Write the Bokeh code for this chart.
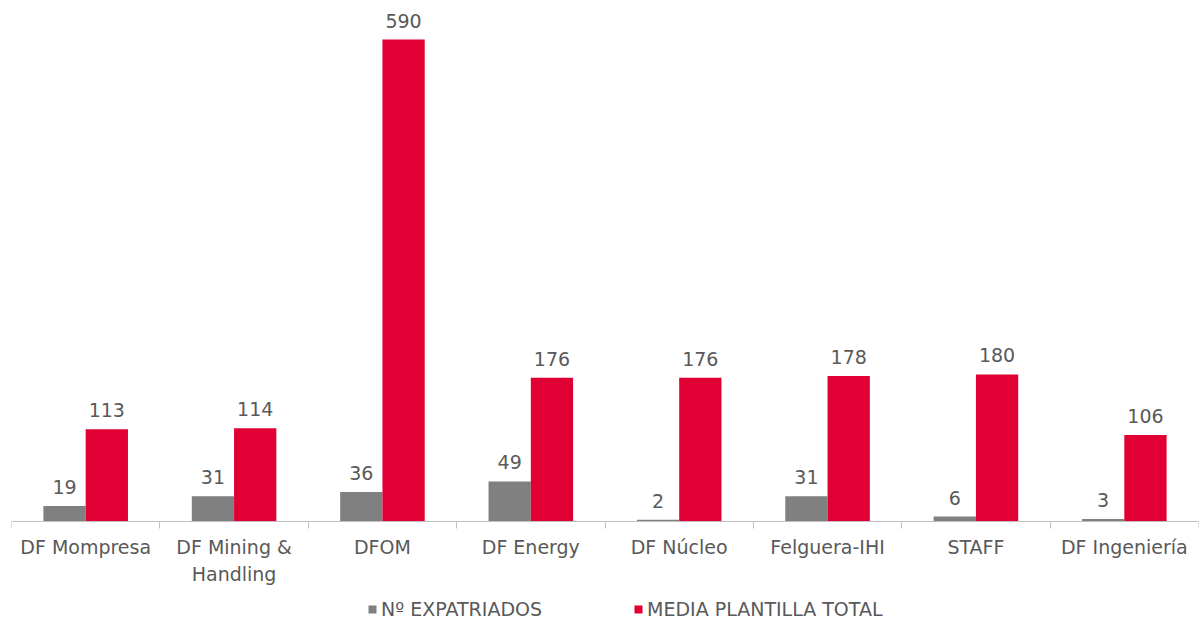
from bokeh.plotting import figure
from bokeh.models import ColumnDataSource, Range1d, FixedTicker, Legend, LegendItem, LabelSet
from bokeh.embed import file_html
from bokeh.resources import INLINE
from bokeh.core.properties import value

categories = ["DF Mompresa", "DF Mining &\nHandling", "DFOM", "DF Energy",
              "DF Núcleo", "Felguera-IHI", "STAFF", "DF Ingeniería"]
expatriados = [19, 31, 36, 49, 2, 31, 6, 3]
plantilla = [113, 114, 590, 176, 176, 178, 180, 106]
series_names = ["Nº EXPATRIADOS", "MEDIA PLANTILLA TOTAL"]

GRAY = "#808080"
RED = "#E00034"
TXT = "#595959"
FONT = "DejaVu Sans"
BW = 0.285

n = len(categories)
idx = list(range(n))
src_g = ColumnDataSource(dict(x=[i - BW / 2 for i in idx], top=expatriados,
                              lab=[str(v) for v in expatriados]))
src_r = ColumnDataSource(dict(x=[i + BW / 2 for i in idx], top=plantilla,
                              lab=[str(v) for v in plantilla]))

p = figure(width=1203, height=620, output_backend="svg", toolbar_location=None,
           x_range=Range1d(-0.5, n - 0.5), y_range=Range1d(-121.2, 625.5),
           min_border_left=11, min_border_right=5, min_border_top=10, min_border_bottom=0)
p.outline_line_color = None
p.xgrid.visible = False
p.ygrid.visible = False
p.yaxis.visible = False
p.background_fill_color = "white"
p.border_fill_color = "white"

r1 = p.vbar(x="x", top="top", width=BW, source=src_g, fill_color=GRAY, line_color=None)
r2 = p.vbar(x="x", top="top", width=BW, source=src_r, fill_color=RED, line_color=None)

for s in (src_g, src_r):
    ls = LabelSet(x="x", y="top", text="lab", source=s, y_offset=12,
                  text_align="center", text_baseline="bottom",
                  text_font=value(FONT), text_font_size="19px", text_color=TXT)
    p.add_layout(ls)

ax = p.xaxis[0]
ax.fixed_location = 0
ax.ticker = FixedTicker(ticks=idx, minor_ticks=[i - 0.5 for i in range(n + 1)])
ax.major_label_overrides = {i: c for i, c in enumerate(categories)}
ax.major_tick_out = 0
ax.major_tick_in = 0
ax.minor_tick_out = 7
ax.minor_tick_in = 0
ax.minor_tick_line_color = "#BFBFBF"
ax.axis_line_color = "#BFBFBF"
ax.axis_line_width = 1
ax.major_label_text_font = FONT
ax.major_label_text_font_size = "19px"
ax.major_label_text_color = TXT
ax.major_label_standoff = 8

legend = Legend(items=[LegendItem(label=series_names[0], renderers=[r1]),
                       LegendItem(label=series_names[1], renderers=[r2])],
                orientation="horizontal", location=(356, 0),
                glyph_width=10, glyph_height=10, label_standoff=4, spacing=91,
                label_text_font=FONT, label_text_font_size="19px",
                label_text_color=TXT, border_line_color=None,
                background_fill_alpha=0, padding=0, margin=0)
p.add_layout(legend)

open("out.html", "w").write(file_html(p, INLINE))
